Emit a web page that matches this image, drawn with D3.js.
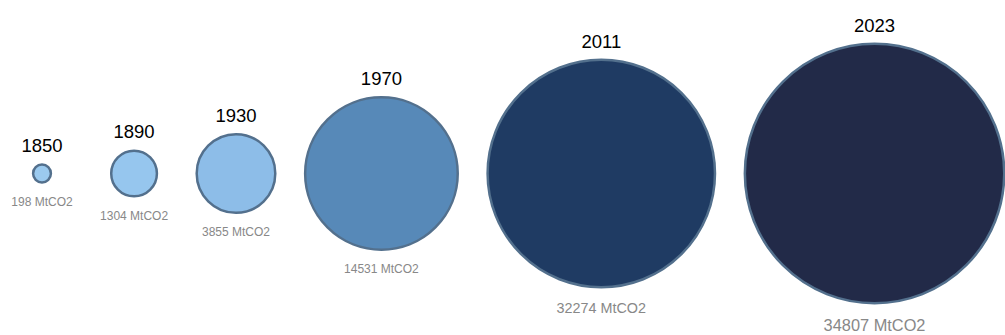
<!DOCTYPE html>
<html>
<head>
<meta charset="utf-8">
<script src="https://cdn.jsdelivr.net/npm/d3@7"></script>
<style>
  html, body { margin: 0; padding: 0; background: #fff; }
  svg { display: block; font-family: "Liberation Sans", Arial, sans-serif; }
</style>
</head>
<body>
<svg id="chart" width="1005" height="335"></svg>
<script>
// ---- data ----
const years = ["1850", "1890", "1930", "1970", "2011", "2023"];
const emissions = [198, 1304, 3855, 14531, 32274, 34807];
const unit = "MtCO2";

// ---- styles ----
const fillPalette = ["#9bcaef", "#96c6ee", "#8dbde8", "#5789b8", "#1f3b63", "#222a48"];
const strokeColor = "#53708d";
const strokeW = 2.5;

const W = 1005, H = 335, cy = 173.5;
const svg = d3.select("#chart");

const rScale = d3.scaleSqrt()
  .domain([0, 32274, 34807])
  .range([0, 113.7, 129.7]);
const color = d3.scaleOrdinal().domain(years).range(fillPalette);

const data = years.map((y, i) => {
  const r = rScale(emissions[i]);
  const outer = r + strokeW / 2;
  const fs = Math.max(12, outer * 0.125);
  return { year: y, value: emissions[i], r, outer, fs };
});

// measure value-label widths to build slot widths
const meas = svg.append("g").attr("opacity", 0);
data.forEach(d => {
  const t = meas.append("text").attr("font-size", d.fs).text(d.value + " " + unit);
  d.lw = t.node().getComputedTextLength();
  d.slot = Math.max(2 * d.outer, d.lw);
});
meas.remove();

// horizontal layout: slots separated by equal gaps
const left = 42 - data[0].slot / 2, right = 1005.5;
const total = d3.sum(data, d => d.slot);
const gap = (right - left - total) / (data.length - 1);
let acc = left;
data.forEach(d => { d.cx = acc + d.slot / 2; acc += d.slot + gap; });

const g = svg.selectAll("g.item").data(data).join("g").attr("class", "item");

g.append("circle")
  .attr("cx", d => d.cx)
  .attr("cy", cy)
  .attr("r", d => d.r)
  .attr("fill", d => color(d.year))
  .attr("stroke", strokeColor)
  .attr("stroke-width", strokeW);

g.append("text")
  .attr("x", d => d.cx)
  .attr("y", d => cy - d.outer - 11)
  .attr("text-anchor", "middle")
  .attr("font-size", 18.5)
  .attr("fill", "#000")
  .text(d => d.year);

g.append("text")
  .attr("x", d => d.cx)
  .attr("y", d => cy + d.outer + d.fs + 10)
  .attr("text-anchor", "middle")
  .attr("font-size", d => d.fs)
  .attr("fill", "#888")
  .text(d => d.value + " " + unit);
</script>
</body>
</html>
